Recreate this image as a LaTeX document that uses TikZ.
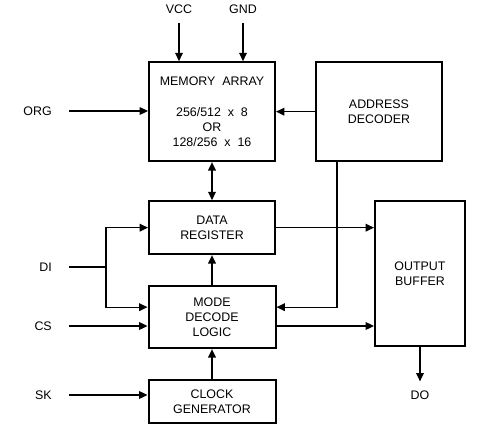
\documentclass[tikz,border=0pt]{standalone}
\usepackage{fontspec}
\setmainfont{Liberation Sans}
\usetikzlibrary{
    positioning,                      % right=of, below=of
    arrows.meta,                      % puntas Triangle
    calc                              % coordenadas desplazadas
}

\begin{document}
\begin{tikzpicture}[
        font=\fontsize{10.6}{12.8}\selectfont,
        >={Triangle[length=2.5mm, width=2.3mm]},
        blk/.style={draw, line width=0.6mm, align=center, inner sep=2pt},
        pin/.style={inner sep=0pt},
        arr/.style={->, line width=0.35mm},
        wire/.style={line width=0.35mm}]

        \useasboundingbox (0,0) rectangle (149.1mm,-128.1mm);

        % columna central
        \node[blk, minimum width=37.8mm, minimum height=29.7mm] (mem) at (63.6mm,-33.5mm)
            {MEMORY\ \ ARRAY\\[4.8mm]256/512\ \ x\ \ 8\\OR\\128/256\ \ x\ \ 16};
        \node[blk, minimum width=37.8mm, minimum height=29.7mm, right=11.7mm of mem] (addr)
            {ADDRESS\\DECODER};
        \node[blk, minimum width=37.8mm, minimum height=15.9mm, below=11.4mm of mem] (data)
            {DATA\\REGISTER};
        \node[blk, minimum width=38.1mm, minimum height=18.6mm, below=9mm of data] (mode)
            {MODE\\DECODE\\LOGIC};
        \node[blk, minimum width=38.1mm, minimum height=12.9mm, below=9mm of mode] (clk)
            {CLOCK\\GENERATOR};
        \node[blk, minimum width=27mm, minimum height=43.5mm, anchor=north west] (buf)
            at ([xshift=29.4mm]data.north east) {OUTPUT\\BUFFER};

        % pines
        \node[pin] (vcc) at (53.7mm,-2.7mm) {VCC};
        \node[pin] (gnd) at (72.9mm,-2.7mm) {GND};
        \node[pin, anchor=east] (org) at (15.6mm,-33.3mm) {ORG};
        \node[pin, anchor=east] (di)  at (15.6mm,-80.1mm) {DI};
        \node[pin, anchor=east] (cs)  at (15.6mm,-97.8mm) {CS};
        \node[pin, anchor=east] (sk)  at (15.6mm,-118.5mm) {SK};
        \node[pin] (dout) at (buf.south |- sk) {DO};

        % entradas
        \draw[arr] ([yshift=-2.7mm]vcc.south) -- (vcc |- mem.north);
        \draw[arr] ([yshift=-2.7mm]gnd.south) -- (gnd |- mem.north);
        \draw[arr] ([xshift=5.1mm]org.east) -- (org.east -| mem.west);
        \draw[wire] ([xshift=5.1mm]di.east) -- ++(11.1mm,0) coordinate (split);
        \draw[arr] (split) |- (data.west);
        \draw[arr] (split) |- ([yshift=3mm]mode.west);
        \draw[arr] ([xshift=5.1mm]cs.east) -- (cs.east -| mode.west);
        \draw[arr] ([xshift=5.1mm]sk.east) -- (sk.east -| clk.west);

        % enlaces internos
        \draw[arr] (addr.west) -- (addr.west -| mem.east);
        \draw[arr, <->] (mem) -- (data);
        \draw[arr] (mode) -- (data);
        \draw[arr] (clk) -- (mode);
        \draw[arr] ([xshift=-12.6mm]addr.south) |- ([yshift=3mm]mode.east);
        \draw[arr] (data.east) -- (data.east -| buf.west);
        \draw[arr] (cs -| mode.east) -- (cs -| buf.west);

        % salida
        \draw[arr] (buf.south) -- ([yshift=2.7mm]dout.north);
    \end{tikzpicture}
\end{document}
